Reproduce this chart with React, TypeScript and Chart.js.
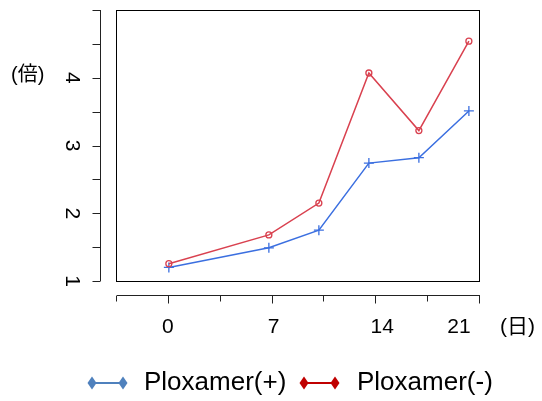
import React, { useEffect, useRef } from "react";
import { Chart, registerables } from "chart.js";

Chart.register(...registerables);

const days = [0, 6.75, 10.125, 13.5, 16.875, 20.25];
const ploxamerPlus = [1.2, 1.49, 1.75, 2.74, 2.82, 3.51];
const ploxamerMinus = [1.255, 1.68, 2.15, 4.07, 3.22, 4.54];
const xTicks = [-3.5, 0, 3.5, 7, 10.5, 14, 17.5, 21];
const xLabels = ["0", "7", "14", "21"];
const xLabelValues = [0, 7, 14, 21];
const yTicks = [1, 1.5, 2, 2.5, 3, 3.5, 4, 4.5, 5];
const yLabelValues = [1, 2, 3, 4];
const seriesNames = ["Ploxamer(+)", "Ploxamer(-)"];
const xUnit = "(日)";
const yUnit = "(倍)";

const FONT = '"Liberation Sans", Arial, "Noto Sans CJK JP", sans-serif';

export default function App() {
  const ref = useRef<HTMLCanvasElement | null>(null);
  useEffect(() => {
    if (!ref.current) return;
    const axesPlugin = {
      id: "rAxes",
      afterDraw(chart: any) {
        const ctx = chart.ctx as CanvasRenderingContext2D;
        const xs = chart.scales.x;
        const ys = chart.scales.y;
        const a = chart.chartArea;
        ctx.save();
        ctx.strokeStyle = "#000";
        ctx.lineWidth = 1;
        // box
        ctx.strokeRect(Math.round(a.left) - 0.5, Math.round(a.top) + 0.5, Math.round(a.right - a.left), Math.round(a.bottom - a.top));
        // y axis
        const yAxisX = 100.5;
        ctx.strokeStyle = "#222";
        ctx.beginPath();
        ctx.moveTo(yAxisX, ys.getPixelForValue(yTicks[0]));
        ctx.lineTo(yAxisX, ys.getPixelForValue(yTicks[yTicks.length - 1]));
        yTicks.forEach((v) => {
          const y = Math.round(ys.getPixelForValue(v)) + 0.5;
          ctx.moveTo(yAxisX, y);
          ctx.lineTo(yAxisX - 8, y);
        });
        ctx.stroke();
        // x axis
        const xAxisY = 295.5;
        ctx.beginPath();
        ctx.moveTo(xs.getPixelForValue(xTicks[0]), xAxisY);
        ctx.lineTo(xs.getPixelForValue(xTicks[xTicks.length - 1]), xAxisY);
        xTicks.forEach((v) => {
          const x = Math.round(xs.getPixelForValue(v)) - 0.5;
          const major = xLabelValues.indexOf(v) >= 0;
          ctx.moveTo(x, xAxisY);
          ctx.lineTo(x, xAxisY + (major ? 8 : 6));
        });
        ctx.stroke();
        // labels
        ctx.fillStyle = "#000";
        ctx.font = "21px " + FONT;
        ctx.textBaseline = "middle";
        ctx.textAlign = "center";
        const dx = [-1, 1, 6, -21];
        xLabelValues.forEach((v, i) => {
          ctx.fillText(xLabels[i], xs.getPixelForValue(v) + dx[i], 327);
        });
        ctx.textAlign = "left";
        ctx.fillText(xUnit, 500, 327);
        ctx.font = "20px " + FONT;
        ctx.fillText(yUnit, 11, 75);
        ctx.font = "21px " + FONT;
        yLabelValues.forEach((v) => {
          ctx.save();
          ctx.translate(72, ys.getPixelForValue(v));
          ctx.rotate(Math.PI / 2);
          ctx.textAlign = "center";
          ctx.fillText(String(v), 0, 0);
          ctx.restore();
        });
        // legend
        const legendY = 383;
        const items = [
          { x0: 92, x1: 123, tx: 144, color: "#4F81BD", label: seriesNames[0] },
          { x0: 304, x1: 335, tx: 357, color: "#C00000", label: seriesNames[1] },
        ];
        items.forEach((it) => {
          ctx.strokeStyle = it.color;
          ctx.fillStyle = it.color;
          ctx.lineWidth = 2;
          ctx.beginPath();
          ctx.moveTo(it.x0, legendY);
          ctx.lineTo(it.x1, legendY);
          ctx.stroke();
          [it.x0, it.x1].forEach((cx) => {
            ctx.beginPath();
            ctx.moveTo(cx, legendY - 6.5);
            ctx.lineTo(cx + 4.5, legendY);
            ctx.lineTo(cx, legendY + 6.5);
            ctx.lineTo(cx - 4.5, legendY);
            ctx.closePath();
            ctx.fill();
          });
          ctx.fillStyle = "#000";
          ctx.font = "26px " + FONT;
          ctx.textAlign = "left";
          ctx.fillText(it.label, it.tx, legendY);
        });
        ctx.restore();
      },
    };
    const chart = new Chart(ref.current, {
      type: "line",
      data: {
        datasets: [
          {
            label: seriesNames[1],
            data: days.map((d, i) => ({ x: d, y: ploxamerMinus[i] })),
            borderColor: "#D9414F",
            backgroundColor: "transparent",
            borderWidth: 1.5,
            pointStyle: "circle",
            pointRadius: 3,
            pointBorderWidth: 1.3,
            pointBorderColor: "#D9414F",
            pointBackgroundColor: "transparent",
            tension: 0,
          },
          {
            label: seriesNames[0],
            data: days.map((d, i) => ({ x: d, y: ploxamerPlus[i] })),
            borderColor: "#3B6FE0",
            backgroundColor: "transparent",
            borderWidth: 1.5,
            pointStyle: "cross",
            pointRadius: 5,
            pointBorderWidth: 1.3,
            pointBorderColor: "#3B6FE0",
            tension: 0,
          },
        ],
      },
      options: {
        animation: false,
        responsive: false,
        devicePixelRatio: 1,
        layout: { padding: { left: 117, right: 62, top: 10, bottom: 120 } },
        scales: {
          x: { type: "linear", min: -3.5, max: 21, display: false },
          y: { type: "linear", min: 1, max: 5, display: false },
        },
        plugins: {
          legend: { display: false },
          tooltip: { enabled: false },
        },
      },
      plugins: [axesPlugin],
    });
    return () => chart.destroy();
  }, []);
  return (
    <div style={{ position: "absolute", left: 0, top: 0, width: 542, height: 401, background: "#fff" }}>
      <canvas ref={ref} width={542} height={401} style={{ width: 542, height: 401, display: "block" }} />
    </div>
  );
}
